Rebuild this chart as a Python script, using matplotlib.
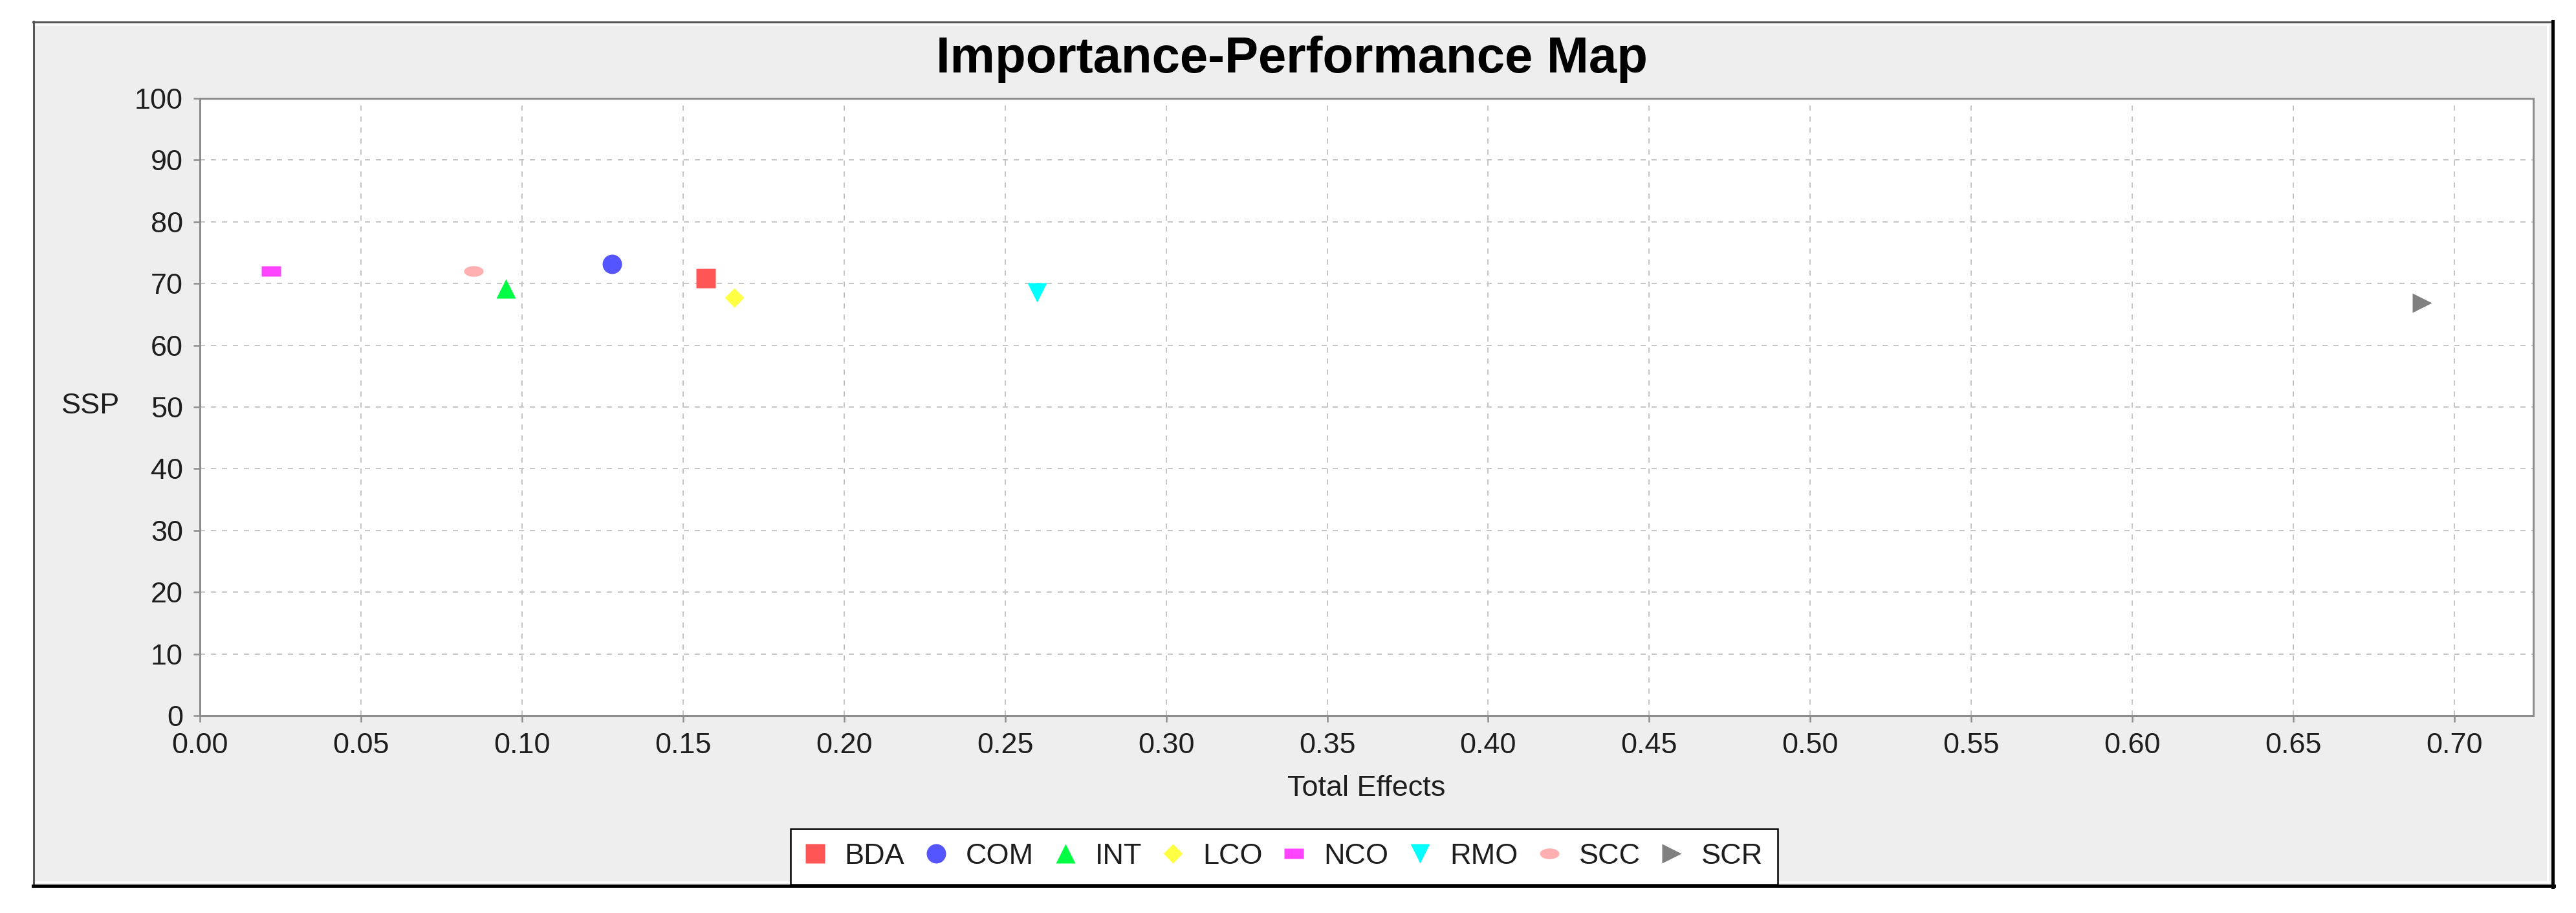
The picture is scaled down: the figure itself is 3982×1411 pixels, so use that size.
import matplotlib
matplotlib.use('Agg')
import matplotlib.pyplot as plt
import numpy as np
from matplotlib.patches import Rectangle
from matplotlib.lines import Line2D

# ---------------- data ----------------
categories = ['BDA', 'COM', 'INT', 'LCO', 'NCO', 'RMO', 'SCC', 'SCR']
total_effects = [0.157, 0.128, 0.095, 0.166, 0.022, 0.260, 0.085, 0.690]
performance = [70.9, 73.2, 69.2, 67.7, 72.0, 68.6, 72.0, 66.9]
colors = ['#FF5555', '#5555FF', '#00FF44', '#FFFF44', '#FF44FF', '#00FFFF', '#FFAFAF', '#808080']
x_ticks = [0.00, 0.05, 0.10, 0.15, 0.20, 0.25, 0.30, 0.35, 0.40, 0.45, 0.50, 0.55, 0.60, 0.65, 0.70]
y_ticks = [0, 10, 20, 30, 40, 50, 60, 70, 80, 90, 100]
title = 'Importance-Performance Map'
x_label = 'Total Effects'
y_label = 'SSP'

# ---------------- marker shapes (JFreeChart default sequence) ----------------
_t = np.linspace(0, 2 * np.pi, 48)
shapes = [
    's',
    'o',
    [(0, 1), (1, -1), (-1, -1)],
    [(0, 1), (1, 0), (0, -1), (-1, 0)],
    [(-1, -0.55), (1, -0.55), (1, 0.55), (-1, 0.55)],
    [(-1, 1), (1, 1), (0, -1)],
    list(zip(np.cos(_t), 0.55 * np.sin(_t))),
    [(-1, 1), (1, 0), (-1, -1)],
]

plt.rcParams['font.family'] = ['Liberation Sans', 'DejaVu Sans']

W, H = 3982, 1411
DPI = 100
fig = plt.figure(figsize=(W / DPI, H / DPI), dpi=DPI, facecolor='white')


def px(x):
    return x / W


def py(y):
    return 1 - y / H


def pt(p):
    return p * 72.0 / DPI


# chart background panel with bevelled frame
fig.patches.append(Rectangle((px(51), py(1370)), px(3945 - 51), (1370 - 33) / H,
                             transform=fig.transFigure, facecolor='#eeeeee',
                             edgecolor='none', zorder=0))
frame_lines = [
    ((51, 3945), (34, 34), '#555555', 3),
    ((52, 52), (33, 1370), '#555555', 3),
    ((55, 3940), (37.5, 37.5), 'white', 2.5),
    ((55, 3940), (1363, 1363), 'white', 3),
    ((3938, 3938), (38, 1363), 'white', 3),
    ((51, 3948), (1369, 1369), 'black', 5),
    ((3945.5, 3945.5), (33, 1371), 'black', 5),
]
for xs, ys, c, lw in frame_lines:
    fig.lines.append(Line2D([px(xs[0]), px(xs[1])], [py(ys[0]), py(ys[1])],
                            transform=fig.transFigure, color=c, linewidth=pt(lw), zorder=1))

# ---------------- plot ----------------
ax = fig.add_axes([px(309), py(1106), px(3916 - 309), (1106 - 152) / H])
ax.set_facecolor('white')
ax.set_zorder(2)

handles = []
for cat, xv, yv, col, shp in zip(categories, total_effects, performance, colors, shapes):
    ln, = ax.plot([xv], [yv], linestyle='none', marker=shp, markersize=pt(30),
                  markerfacecolor=col, markeredgecolor='none', label=cat, zorder=3)
    handles.append(ln)

ax.set_xlim(0, 0.7245)
ax.set_ylim(0, 100)
ax.set_xticks(x_ticks)
ax.set_xticklabels([f'{v:.2f}' for v in x_ticks])
ax.set_yticks(y_ticks)
ax.set_yticklabels([str(v) for v in y_ticks])

ax.grid(True, color='#c6c6c6', linestyle=(0, (4, 4.5)), linewidth=pt(2))
ax.set_axisbelow(True)

for side in ['left', 'bottom', 'top', 'right']:
    ax.spines[side].set_color('#8c8c8c')
    ax.spines[side].set_linewidth(pt(3))

ax.tick_params(axis='both', which='major', length=pt(10), width=pt(2.5), color='#8c8c8c',
               labelsize=pt(45), labelcolor='#1e1e1e', pad=pt(16))

ax.set_xlabel(x_label, fontsize=pt(45), color='#1e1e1e', va='center')
ax.xaxis.set_label_coords(0.5, -(1219 - 1106) / (1106 - 152))
ax.set_ylabel(y_label, fontsize=pt(45), color='#1e1e1e', rotation=0, va='center', ha='center')
ax.yaxis.set_label_coords((140 - 309) / (3916 - 309), 0.5 + 1.5 / (1106 - 152))

# ---------------- title ----------------
fig.text(px(1997), py(112), title, ha='center', va='baseline', fontsize=pt(78),
         fontweight='bold', color='black')

# ---------------- legend ----------------
leg = fig.legend(handles, categories, loc='center', bbox_to_anchor=(px(1985), py(1323.5)),
                 ncol=8, fontsize=pt(45), frameon=True, fancybox=False, shadow=False,
                 edgecolor='black', facecolor='white', framealpha=1,
                 handlelength=0.68, handletextpad=0.68, columnspacing=0.74,
                 borderpad=0.5, borderaxespad=0, numpoints=1)
leg.get_frame().set_linewidth(pt(2.5))
for t in leg.get_texts():
    t.set_color('#1e1e1e')

fig.savefig('out.png', dpi=DPI, facecolor='white')
